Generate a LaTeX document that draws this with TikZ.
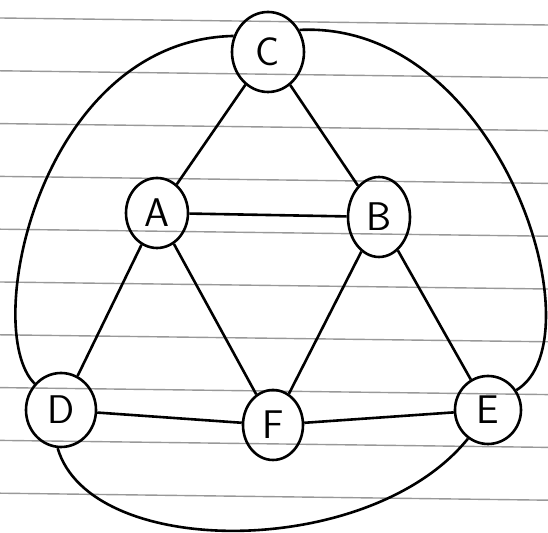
\documentclass[tikz,border=0pt]{standalone}
\usepackage{tikz}
\usetikzlibrary{positioning,shapes.geometric}

\begin{document}
\begin{tikzpicture}[
    x=0.5pt, y=-0.5pt,
    vertex/.style={ellipse, draw=black, line width=1.3pt, inner sep=0pt, font=\fontsize{20}{24}\selectfont\sffamily},
    line/.style={draw=black, line width=1.3pt},
    rule/.style={draw=gray!80, line width=0.7pt}
]
    % paper
    \useasboundingbox (0,0) rectangle (548,533);
    \fill [white] (0,0) rectangle (548,533);
    \foreach \k in {0,...,9}
        \draw [rule] (0,{18+52.8*\k}) -- (548,{25+52.8*\k});

    % vertices
    \node [vertex, minimum width=36pt, minimum height=40pt] (C) at (268,52) {C};
    \node [vertex, minimum width=31pt, minimum height=35pt] (A) at (157,213) {A};
    \node [vertex, minimum width=31pt, minimum height=40pt] (B) at (379,217) {B};
    \node [vertex, minimum width=35pt, minimum height=37pt] (D) at (61,410) {D};
    \node [vertex, minimum width=30pt, minimum height=35pt] (F) at (273,425) {F};
    \node [vertex, minimum width=33pt, minimum height=34pt] (E) at (488,410) {E};

    % inner edges
    \path [line] (C) -- (A);
    \path [line] (C) -- (B);
    \path [line] (A) -- (B);
    \path [line] (A) -- (D);
    \path [line] (A) -- (F);
    \path [line] (B) -- (F);
    \path [line] (B) -- (E);
    \path [line] (D) -- (F);
    \path [line] (F) -- (E);

    % outer curves
    \path [line] (C.155) .. controls (40,40) and (-20,330) .. (D.135);
    \path [line] (C.35) .. controls (500,20) and (600,340) .. (E.35);
    \path [line] (D.265) .. controls (90,560) and (370,560) .. (E.235);
\end{tikzpicture}
\end{document}
